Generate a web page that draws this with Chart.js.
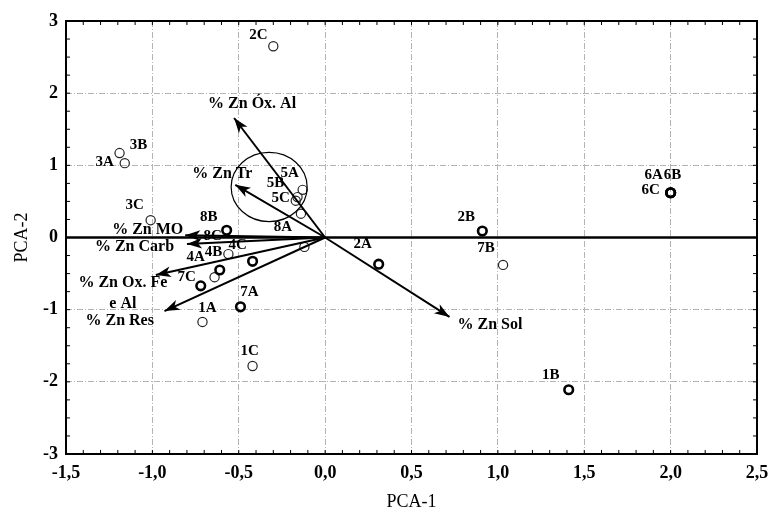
<!DOCTYPE html>
<html><head><meta charset="utf-8">
<script src="https://cdn.jsdelivr.net/npm/chart.js@4/dist/chart.umd.min.js"></script>
<style>html,body{margin:0;padding:0;background:#fff}</style>
</head><body>
<canvas id="c" width="769" height="516"></canvas>
<script>
// ---- data ----
const boldNames = ['8B','4C','4A','7C','7A','2A','2B','6A','6B','6C','1B'];
const boldX     = [-0.57,-0.42,-0.61,-0.72,-0.49, 0.31, 0.91, 2.00, 2.00, 2.00, 1.41];
const boldY     = [ 0.10,-0.33,-0.45,-0.67,-0.96,-0.37, 0.09, 0.62, 0.62, 0.62,-2.11];

const thinNames = ['2C','3B','3A','3C','4B','1A','1C','5A','5B','5C','8A','7B','',''];
const thinX     = [-0.30,-1.19,-1.16,-1.01,-0.56,-0.71,-0.42,-0.13,-0.16,-0.17,-0.14, 1.03,-0.64,-0.12];
const thinY     = [ 2.65, 1.17, 1.03, 0.24,-0.23,-1.17,-1.78, 0.66, 0.56, 0.51, 0.33,-0.38,-0.55,-0.13];

const hiddenNames = ['8C'];
const hiddenX     = [-0.61];
const hiddenY     = [ 0.00];

const vectorNames = ['% Zn Óx. Al','% Zn Tr','% Zn MO','% Zn Carb',['% Zn Ox. Fe','e Al'],'% Zn Res','% Zn Sol'];
const vectorX     = [-0.527,-0.52,-0.81,-0.80,-0.98,-0.93, 0.72];
const vectorY     = [ 1.656, 0.73, 0.03,-0.09,-0.52,-1.02,-1.10];

const circleCenter = {x:-0.324, y:0.70};
const circleRadius = {x:0.22, y:0.48};

const xTicks = [-1.5,-1.0,-0.5,0.0,0.5,1.0,1.5,2.0,2.5];
const yTicks = [-3,-2,-1,0,1,2,3];
const xAxisTitle = 'PCA-1';
const yAxisTitle = 'PCA-2';

// ---- label placement (pixel offsets, styling only) ----
const pointLabelOffsets = {
  '2C':[-15,-11],'3B':[19,-8],'3A':[-20,-1],'3C':[-16,-15],'8B':[-18,-13],'8C':[-7,-1],
  '4B':[-15,-2],'4C':[-15,-16],'4A':[-24,-13],'7C':[-14,-9],'7A':[9,-15],'1A':[5,-14],
  '1C':[-3,-15],'5A':[-13,-17],'5B':[-22,-14],'5C':[-15,-3],'8A':[-18,13],'2A':[-16,-20],
  '2B':[-16,-14],'7B':[-17,-17],'6A':[-17,-18],'6B':[2,-18],'6C':[-20,-3],'1B':[-18,-15]
};
const vectorLabelOffsets = [[-26,-14,'left'],[-43,-11,'left'],[-73,-5,'left'],[-92,3,'left'],
  [[-33,8,'center'],[-33,29,'center']],[-79,10,'left'],[8,8,'left']];

const SERIF = "'Liberation Serif','Times New Roman',serif";

function pts(xs, ys){ return xs.map((x,i)=>({x:x, y:ys[i]})); }

const datasets = [];
datasets.push({type:'line', label:'zero', data:[{x:xTicks[0],y:0},{x:xTicks[xTicks.length-1],y:0}],
  borderColor:'#000', borderWidth:2.5, pointRadius:0, order:5});
vectorX.forEach((vx,i)=>{
  datasets.push({type:'line', label:'vec'+i, isVector:true, vIndex:i,
    data:[{x:0,y:0},{x:vx,y:vectorY[i]}], borderColor:'#000', borderWidth:2, pointRadius:0, order:2});
});
datasets.push({type:'scatter', label:'bold', names:boldNames, data:pts(boldX,boldY),
  pointRadius:4.3, pointBorderWidth:2.6, borderColor:'#000', backgroundColor:'rgba(255,255,255,0)', order:3});
datasets.push({type:'scatter', label:'thin', names:thinNames, data:pts(thinX,thinY),
  pointRadius:4.6, pointBorderWidth:1.2, borderColor:'#222', backgroundColor:'rgba(255,255,255,0)', order:3});
datasets.push({type:'scatter', label:'hidden', names:hiddenNames, data:pts(hiddenX,hiddenY),
  pointRadius:0, borderColor:'#000', order:3});

const decor = {
  id:'decor',
  afterDatasetsDraw(chart){
    const ctx = chart.ctx, xs = chart.scales.x, ys = chart.scales.y, a = chart.chartArea;
    ctx.save();
    // ellipse
    const cx = xs.getPixelForValue(circleCenter.x), cy = ys.getPixelForValue(circleCenter.y);
    const rx = Math.abs(xs.getPixelForValue(circleCenter.x+circleRadius.x)-cx);
    const ry = Math.abs(ys.getPixelForValue(circleCenter.y+circleRadius.y)-cy);
    ctx.beginPath(); ctx.ellipse(cx,cy,rx,ry,0,0,Math.PI*2);
    ctx.strokeStyle='#000'; ctx.lineWidth=1.2; ctx.stroke();
    // arrowheads + vector labels
    chart.data.datasets.forEach((ds,di)=>{
      if(!ds.isVector) return;
      const m = chart.getDatasetMeta(di);
      const p0 = m.data[0], p1 = m.data[1];
      const ang = Math.atan2(p1.y-p0.y, p1.x-p0.x);
      const L=16, th=0.34, l=11;
      ctx.beginPath();
      ctx.moveTo(p1.x,p1.y);
      ctx.lineTo(p1.x-L*Math.cos(ang-th), p1.y-L*Math.sin(ang-th));
      ctx.lineTo(p1.x-l*Math.cos(ang), p1.y-l*Math.sin(ang));
      ctx.lineTo(p1.x-L*Math.cos(ang+th), p1.y-L*Math.sin(ang+th));
      ctx.closePath(); ctx.fillStyle='#000'; ctx.fill();
      const name = vectorNames[ds.vIndex], off = vectorLabelOffsets[ds.vIndex];
      ctx.font = 'bold 16px '+SERIF; ctx.textBaseline='middle'; ctx.fillStyle='#000';
      if(Array.isArray(name)){
        name.forEach((t,k)=>{ ctx.textAlign=off[k][2]; ctx.fillText(t,p1.x+off[k][0],p1.y+off[k][1]); });
      } else { ctx.textAlign=off[2]; ctx.fillText(name,p1.x+off[0],p1.y+off[1]); }
    });
    // point labels
    ctx.font = 'bold 15px '+SERIF; ctx.textAlign='center'; ctx.textBaseline='middle'; ctx.fillStyle='#000';
    chart.data.datasets.forEach((ds,di)=>{
      if(!ds.names) return;
      const m = chart.getDatasetMeta(di);
      ds.names.forEach((n,i)=>{
        if(!n) return; const o = pointLabelOffsets[n]||[0,-12];
        ctx.fillText(n, m.data[i].x+o[0], m.data[i].y+o[1]);
      });
    });
    // frame
    ctx.strokeStyle='#000'; ctx.lineWidth=2;
    ctx.strokeRect(a.left,a.top,a.right-a.left,a.bottom-a.top);
    // inward ticks
    ctx.lineWidth=1;
    const x0=xTicks[0], x1=xTicks[xTicks.length-1];
    for(let k=0;k<=Math.round((x1-x0)*10);k++){
      const v=x0+k*0.1, px=xs.getPixelForValue(v), len=4;
      ctx.beginPath(); ctx.moveTo(px,a.bottom); ctx.lineTo(px,a.bottom-len);
      ctx.moveTo(px,a.top); ctx.lineTo(px,a.top+len); ctx.stroke();
    }
    const y0=yTicks[0], y1=yTicks[yTicks.length-1];
    for(let k=0;k<=Math.round((y1-y0)*4);k++){
      const v=y0+k*0.25, py=ys.getPixelForValue(v), len=4;
      ctx.beginPath(); ctx.moveTo(a.left,py); ctx.lineTo(a.left+len,py);
      ctx.moveTo(a.right,py); ctx.lineTo(a.right-len,py); ctx.stroke();
    }
    ctx.restore();
  }
};

new Chart(document.getElementById('c'), {
  data:{datasets:datasets},
  options:{
    responsive:false, animation:false, devicePixelRatio:1,
    layout:{padding:{left:0,right:12,top:21,bottom:0}},
    plugins:{legend:{display:false}, tooltip:{enabled:false}},
    scales:{
      x:{type:'linear', min:xTicks[0], max:xTicks[xTicks.length-1],
        afterFit(s){ s.height=62; s.paddingLeft=0; s.paddingRight=0; },
        afterBuildTicks(s){ s.ticks = xTicks.map(v=>({value:v})); },
        ticks:{padding:9, color:'#000', font:{family:SERIF, size:18, weight:'bold'},
          callback:(v)=>Number(v).toFixed(1).replace('.',','), maxRotation:0, autoSkip:false},
        grid:{color:'#b4b4b4', lineWidth:1, drawTicks:false},
        border:{display:false, dash:[6,2,1,2]},
        title:{display:true, text:xAxisTitle, color:'#000', font:{family:SERIF,size:18}, padding:{top:0,bottom:3}}
      },
      y:{type:'linear', min:yTicks[0], max:yTicks[yTicks.length-1],
        afterFit(s){ s.width=66; s.paddingTop=0; s.paddingBottom=0; },
        afterBuildTicks(s){ s.ticks = yTicks.map(v=>({value:v})); },
        ticks:{padding:8, color:'#000', font:{family:SERIF, size:18, weight:'bold'},
          callback:(v)=>String(v), autoSkip:false},
        grid:{color:'#b4b4b4', lineWidth:1, drawTicks:false},
        border:{display:false, dash:[6,2,1,2]},
        title:{display:true, text:yAxisTitle, color:'#000', font:{family:SERIF,size:18}, padding:{top:11,bottom:0}}
      }
    }
  },
  plugins:[decor]
});
</script>
</body></html>
